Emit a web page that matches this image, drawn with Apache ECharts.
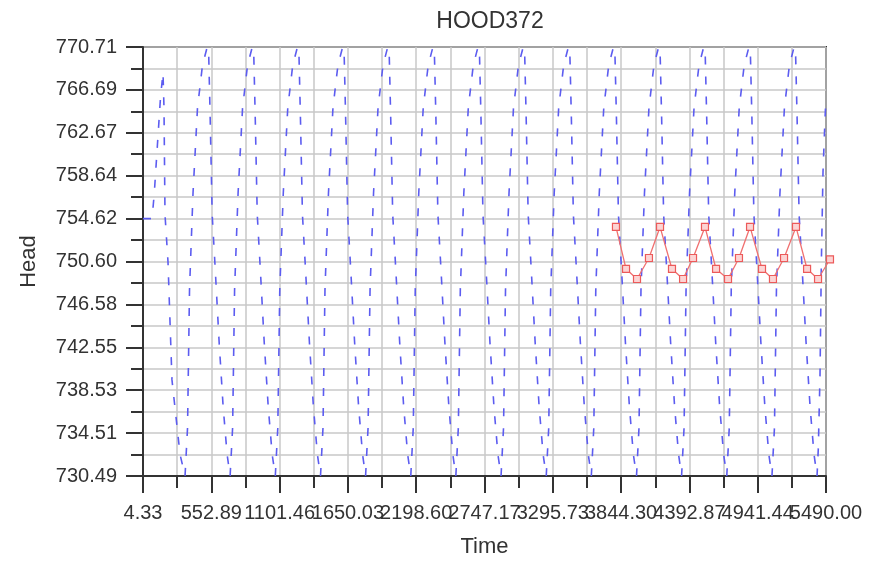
<!DOCTYPE html>
<html>
<head>
<meta charset="utf-8">
<script src="https://cdn.jsdelivr.net/npm/echarts@6/dist/echarts.min.js"></script>
<style>
html,body{margin:0;padding:0;background:#fff;}
#chart{width:870px;height:563px;}
</style>
</head>
<body>
<div id="chart"></div>
<script>
// ---- data ----
const xTickLabels = ['4.33','552.89','1101.46','1650.03','2198.60','2747.17','3295.73','3844.30','4392.87','4941.44','5490.00'];
const yTickLabels = ['730.49','734.51','738.53','742.55','746.58','750.60','754.62','758.64','762.67','766.69','770.71'];
const xMin = 4.33, xMax = 5490.00;
const yMin = 730.49, yMax = 770.71;

// simulated head (blue dashed), [time, head]
const simulatedHead = [
  [4.33,754.62],[77,754.62],[95,757],[120,761.5],[145,766],[165,768.3],[173,765],[181,755],[205,750.6],[237,739.5],[302,732.5],
  [342,730.49],[362,735],[378,748],[406,757],[442,765],[482,769],[520,770.71],[532,770],[544,764],[560,755],[584,750],[616,743],[648,737],[680,732.5],
  [704,730.49],[724,735],[740,748],[768,757],[804,765],[844,769],[882,770.71],[894,770],[906,764],[922,755],[946,750],[978,743],[1010,737],[1042,732.5],
  [1067,730.49],[1087,735],[1103,748],[1131,757],[1167,765],[1207,769],[1245,770.71],[1257,770],[1269,764],[1285,755],[1309,750],[1341,743],[1373,737],[1405,732.5],
  [1430,730.49],[1450,735],[1466,748],[1494,757],[1530,765],[1570,769],[1608,770.71],[1620,770],[1632,764],[1648,755],[1672,750],[1704,743],[1736,737],[1768,732.5],
  [1792,730.49],[1812,735],[1828,748],[1856,757],[1892,765],[1932,769],[1970,770.71],[1982,770],[1994,764],[2010,755],[2034,750],[2066,743],[2098,737],[2130,732.5],
  [2155,730.49],[2175,735],[2191,748],[2219,757],[2255,765],[2295,769],[2333,770.71],[2345,770],[2357,764],[2373,755],[2397,750],[2429,743],[2461,737],[2493,732.5],
  [2517,730.49],[2537,735],[2553,748],[2581,757],[2617,765],[2657,769],[2695,770.71],[2707,770],[2719,764],[2735,755],[2759,750],[2791,743],[2823,737],[2855,732.5],
  [2880,730.49],[2900,735],[2916,748],[2944,757],[2980,765],[3020,769],[3058,770.71],[3070,770],[3082,764],[3098,755],[3122,750],[3154,743],[3186,737],[3218,732.5],
  [3243,730.49],[3263,735],[3279,748],[3307,757],[3343,765],[3383,769],[3421,770.71],[3433,770],[3445,764],[3461,755],[3485,750],[3517,743],[3549,737],[3581,732.5],
  [3605,730.49],[3625,735],[3641,748],[3669,757],[3705,765],[3745,769],[3783,770.71],[3795,770],[3807,764],[3823,755],[3847,750],[3879,743],[3911,737],[3943,732.5],
  [3968,730.49],[3988,735],[4004,748],[4032,757],[4068,765],[4108,769],[4146,770.71],[4158,770],[4170,764],[4186,755],[4210,750],[4242,743],[4274,737],[4306,732.5],
  [4330,730.49],[4350,735],[4366,748],[4394,757],[4430,765],[4470,769],[4508,770.71],[4520,770],[4532,764],[4548,755],[4572,750],[4604,743],[4636,737],[4668,732.5],
  [4693,730.49],[4713,735],[4729,748],[4757,757],[4793,765],[4833,769],[4871,770.71],[4883,770],[4895,764],[4911,755],[4935,750],[4967,743],[4999,737],[5031,732.5],
  [5056,730.49],[5076,735],[5092,748],[5120,757],[5156,765],[5196,769],[5234,770.71],[5246,770],[5258,764],[5274,755],[5298,750],[5330,743],[5362,737],[5394,732.5],
  [5418,730.49],[5428,733],[5442,740],[5452,750],[5466,759],[5482,764],[5490,766]
];

// observed head (red squares)
const observedTime = [3803,3884,3972,4068,4157,4253,4342,4422,4518,4607,4703,4791,4880,4976,5064,5153,5249,5338,5426,5522];
const observedHead = [753.84,749.90,748.96,750.93,753.84,749.90,748.96,750.93,753.84,749.90,748.96,750.93,753.84,749.90,748.96,750.93,753.84,749.90,748.96,750.80];

// ---- chart ----
const FONT = 'Liberation Sans, Arial, sans-serif';
const xInterval = (xMax - xMin) / 10;
const yInterval = (yMax - yMin) / 10;
const gridLine = { color: '#c8c8c8', width: 1.5 };
const axisDark = { color: '#333', width: 2 };
const lastX = xTickLabels.length - 1;
const xIndex = v => Math.round((v - xMin) / xInterval);

const chart = echarts.init(document.getElementById('chart'));
chart.setOption({
  animation: false,
  backgroundColor: '#fff',
  title: {
    text: 'HOOD372', left: 485, top: 5, textAlign: 'center',
    textStyle: { fontFamily: FONT, fontSize: 23, fontWeight: 'normal', color: '#333' }
  },
  grid: { left: 143, right: 44, top: 47, bottom: 86, show: true, borderColor: '#333', borderWidth: 2, backgroundColor: 'transparent' },
  xAxis: [
    {
      type: 'value', min: xMin, max: xMax, interval: xInterval,
      name: 'Time', nameLocation: 'middle', nameGap: 60,
      nameTextStyle: { fontFamily: FONT, fontSize: 22, color: '#333' },
      axisLine: { show: true, lineStyle: axisDark },
      axisTick: { show: true, length: 17, lineStyle: axisDark },
      minorTick: { show: true, splitNumber: 2, length: 12, lineStyle: axisDark },
      splitLine: { show: true, lineStyle: gridLine },
      minorSplitLine: { show: true, lineStyle: gridLine },
      axisLabel: {
        margin: 27, fontFamily: FONT, fontSize: 20, color: '#333',
        showMinLabel: true, hideOverlap: false,
        formatter: v => { const i = xIndex(v); return i === lastX ? '' : (xTickLabels[i] || ''); }
      }
    },
    {
      // same scale; carries only the last tick label so neighbours are not hidden
      type: 'value', min: xMin, max: xMax, interval: xInterval, position: 'bottom',
      axisLine: { show: false }, axisTick: { show: false }, splitLine: { show: false },
      minorTick: { show: false }, minorSplitLine: { show: false },
      axisLabel: {
        margin: 27, fontFamily: FONT, fontSize: 20, color: '#333',
        showMaxLabel: true, showMinLabel: false,
        formatter: v => { const i = xIndex(v); return i === lastX ? xTickLabels[i] : ''; }
      }
    }
  ],
  yAxis: {
    type: 'value', min: yMin, max: yMax, interval: yInterval,
    name: 'Head', nameLocation: 'middle', nameGap: 103, nameRotate: 90,
    nameTextStyle: { fontFamily: FONT, fontSize: 22, color: '#333' },
    axisLine: { show: true, lineStyle: axisDark },
    axisTick: { show: true, length: 17, lineStyle: axisDark },
    minorTick: { show: true, splitNumber: 2, length: 12, lineStyle: axisDark },
    splitLine: { show: true, lineStyle: gridLine },
    minorSplitLine: { show: true, lineStyle: gridLine },
    axisLabel: {
      margin: 26, fontFamily: FONT, fontSize: 20, color: '#333',
      showMinLabel: true, showMaxLabel: true,
      formatter: v => yTickLabels[Math.round((v - yMin) / yInterval)] || ''
    }
  },
  series: [
    {
      name: 'Simulated', type: 'line', data: simulatedHead, showSymbol: false, symbol: 'none',
      lineStyle: { color: '#5c5cf0', width: 1.6, type: [8, 12] }, z: 2
    },
    {
      name: 'Observed', type: 'line', clip: false,
      data: observedTime.map((t, i) => [t, observedHead[i]]),
      symbol: 'rect', symbolSize: 7, showSymbol: true,
      lineStyle: { color: '#f07070', width: 1.3 },
      itemStyle: { color: '#fcd4d4', borderColor: '#ec5a5a', borderWidth: 1.2 }, z: 3
    }
  ]
});
</script>
</body>
</html>
